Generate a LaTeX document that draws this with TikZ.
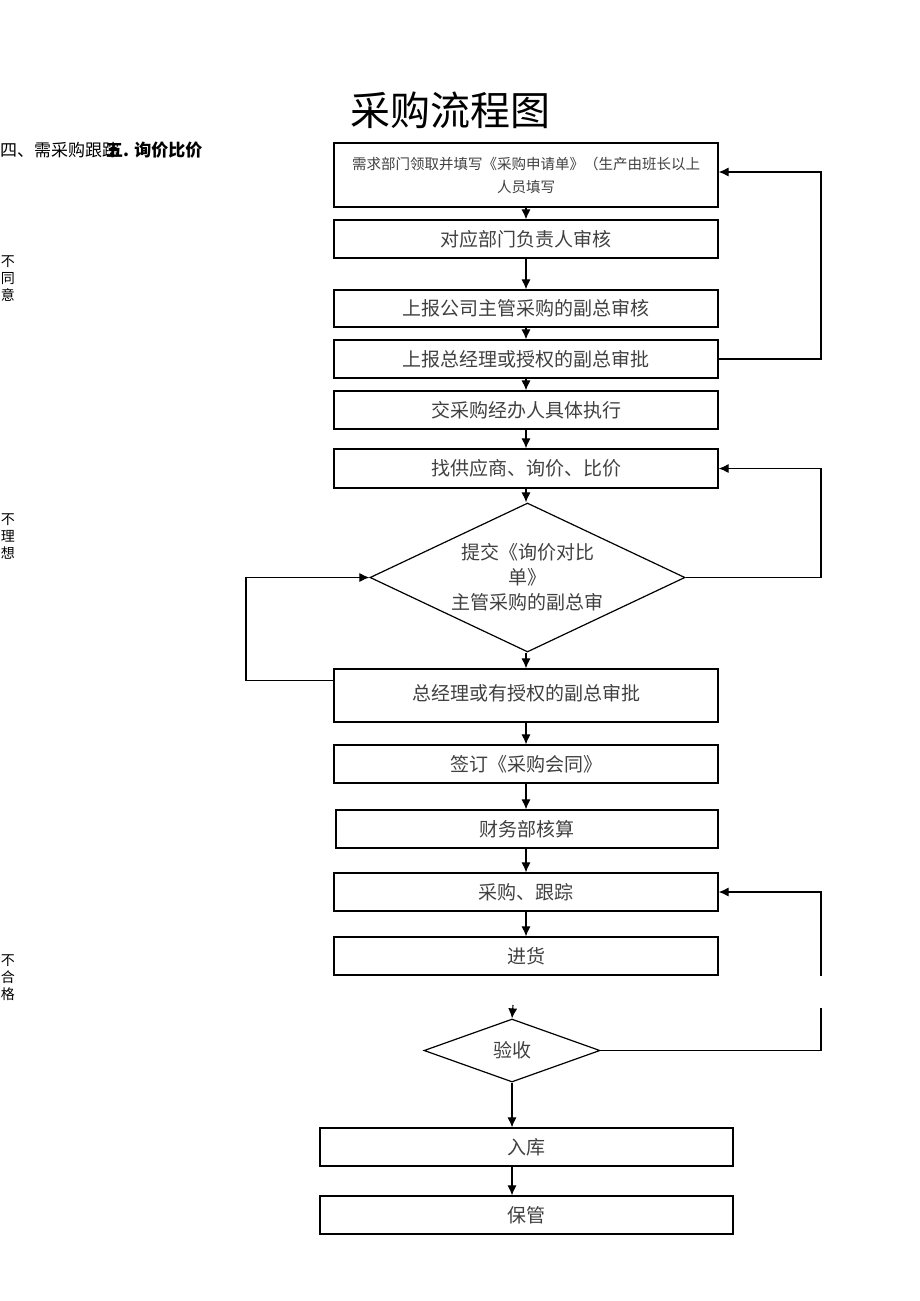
\documentclass[tikz,border=0pt]{standalone}
\usepackage{fontspec}
\setmainfont{Noto Sans CJK SC}
\usetikzlibrary{
    arrows.meta,
    shapes.geometric
}
\definecolor{inkgray}{gray}{0.25}
\tikzset {
    box/.style = {draw, line width = 1.2pt, minimum width = 384pt,
        minimum height = 38pt, inner sep = 2pt, text = inkgray,
        font = \fontsize{19}{24}\selectfont},
    decision/.style = {draw, diamond, line width = 1.2pt, inner sep = 0pt,
        text = inkgray, align = center, font = \fontsize{19}{25}\selectfont},
    side/.style = {align = center, inner sep = 0pt,
        font = \fontsize{14}{17}\selectfont},
    flow/.style = {line width = 1.1pt, -{Latex[length = 10pt, width = 9pt]}},
    link/.style = {line width = 1.1pt}
}

\begin{document}
\begin{tikzpicture}[x = 1pt, y = -1pt]
    \useasboundingbox (0, 0) rectangle (920, 1301);
    % title and margin notes
    \node (title) at (450, 110) {\fontsize{40}{44}\selectfont 采购流程图};
    \node (note4) [anchor = west, inner sep = 0pt, font = \fontsize{17}{20}\selectfont] at (0, 150) {四、需采购跟踪};
    \node (note5) [anchor = west, inner sep = 0pt, font = \bfseries\fontsize{17}{20}\selectfont] at (106, 150) {五. 询价比价};
    \node (s1) [side] at (8, 279) {不\\同\\意};
    \node (s2) [side] at (8, 537) {不\\理\\想};
    \node (s3) [side] at (8, 978) {不\\合\\格};
    % main chain
    \node (b1) [box, minimum height = 64pt, align = center,
        font = \fontsize{14.5}{23}\selectfont] at (526, 175)
        {需求部门领取并填写《采购申请单》（生产由班长以上\\人员填写};
    \node (b2) [box] at (526, 239) {对应部门负责人审核};
    \node (b3) [box, minimum height = 37pt] at (526, 308.5) {上报公司主管采购的副总审核};
    \node (b4) [box] at (526, 359) {上报总经理或授权的副总审批};
    \node (b5) [box] at (526, 410) {交采购经办人具体执行};
    \node (b6) [box, minimum height = 39pt] at (526, 468.5) {找供应商、询价、比价};
    \node (d1) [decision, aspect = 2.11, minimum width = 315pt, minimum height = 149pt] at (527.5, 577.5)
        {提交《询价对比\\单》\\主管采购的副总审};
    \node (b8) [box, minimum height = 53pt] at (526, 695.5) {\raisebox{7pt}{总经理或有授权的副总审批}};
    \node (b9) [box] at (526, 764) {签订《采购会同》};
    \node (b10) [box, minimum width = 382pt] at (527, 829) {财务部核算};
    \node (b11) [box] at (526, 892) {采购、跟踪};
    \node (b12) [box] at (526, 956) {进货};
    \node (ys) [decision, minimum width = 176pt, minimum height = 63pt] at (512, 1050.5) {验收};
    \node (rk) [box, minimum width = 413pt] at (526.5, 1147) {入库};
    \node (bg) [box, minimum width = 413pt] at (526.5, 1215) {保管};
    \coordinate (rt) at (821, 0);
    \coordinate (lt) at (246, 0);
    \coordinate (gapa) at (821, 1008);
    \coordinate (gapb) at (821, 976);
    \coordinate (gapc) at (513, 1005);
    % straight arrows
    \foreach \a/\b in {b1/b2, b2/b3, b3/b4, b4/b5, b5/b6, b6/d1, d1/b8,
                       b8/b9, b9/b10, b10/b11, b11/b12}
        \draw [flow] (\a.south -| b1) -- (\b.north -| b1);
    \draw [flow] (gapc) -- (ys.north);
    \draw [flow] (ys.south) -- (ys.south |- rk.north);
    \draw [flow] (rk.south -| ys) -- (bg.north -| ys);
    % loops back
    \draw [flow] (b4.east) -- (b4.east -| rt) -- ([yshift = 3pt]b1.east -| rt)
        -- ([yshift = 3pt]b1.east);
    \draw [flow] (d1.east) -- (d1.east -| rt) -- (b6.east -| rt) -- (b6.east);
    \draw [flow] ([yshift = 15pt]b8.west) -- ([yshift = 15pt]b8.west -| lt)
        -- (d1.west -| lt) -- (d1.west);
    \draw [link] (ys.east) -- (ys.east -| rt) -- (gapa);
    \draw [flow] (gapb) -- (gapb |- b11.east) -- (b11.east);
\end{tikzpicture}
\end{document}
